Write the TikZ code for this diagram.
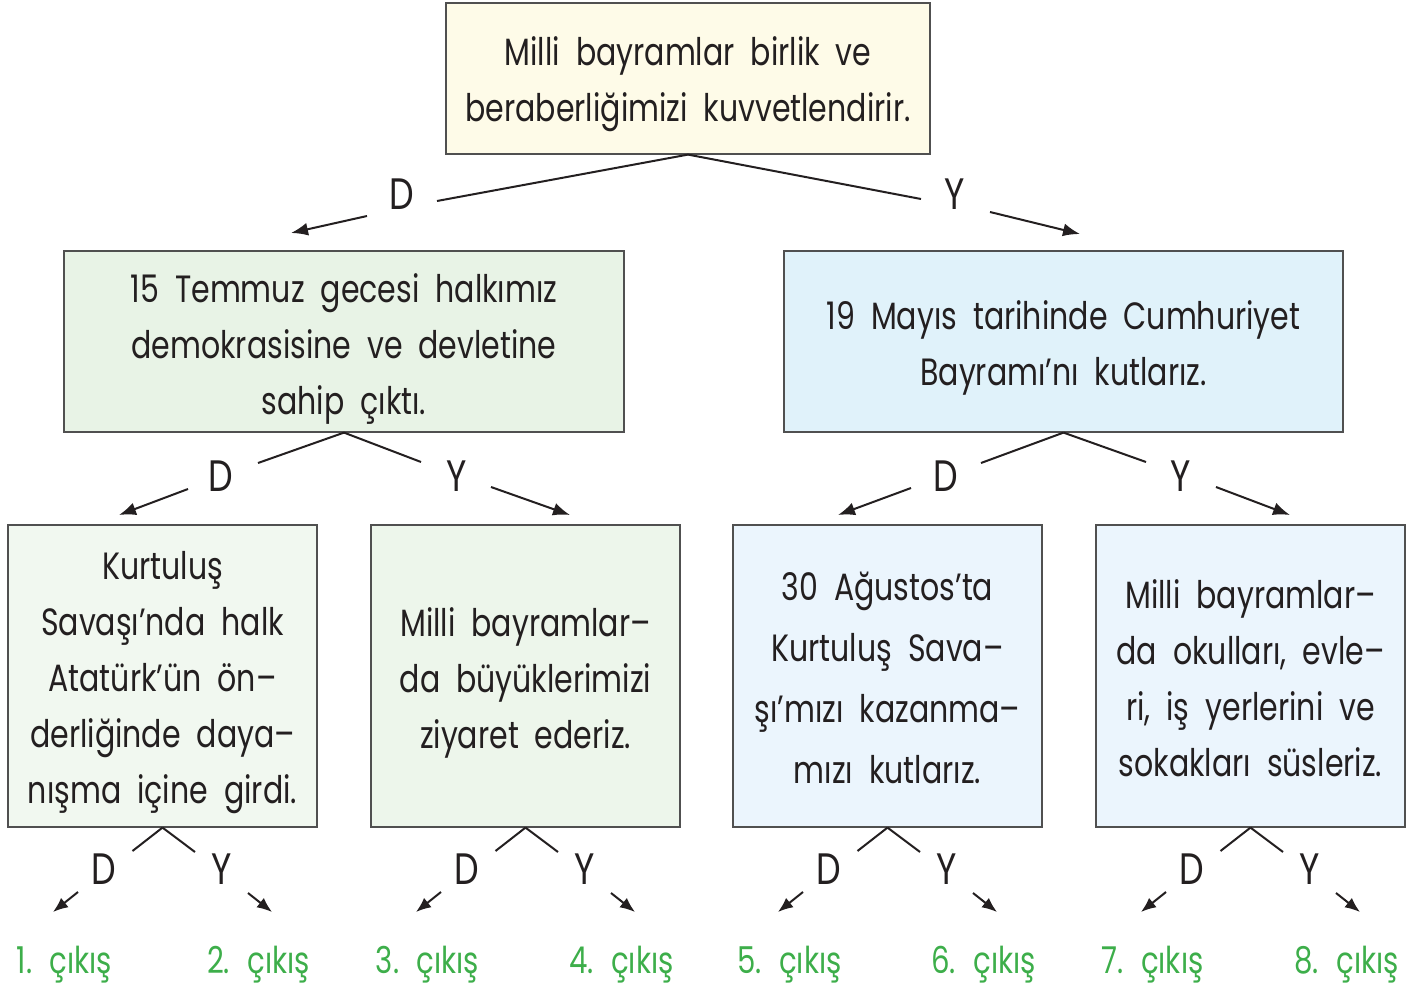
\documentclass[tikz,border=0pt]{standalone}
\usepackage{fontspec}
\setmainfont{Poppins}[FakeStretch=0.79]
\usetikzlibrary{arrows.meta}
\definecolor{txt}{HTML}{231F20}
\definecolor{bord}{HTML}{505050}
\definecolor{topfill}{HTML}{FEFBE8}
\definecolor{gfill}{HTML}{E8F3E6}
\definecolor{bfill}{HTML}{E0F2FA}
\definecolor{g1fill}{HTML}{F1F8F0}
\definecolor{g2fill}{HTML}{EDF6EB}
\definecolor{b3fill}{HTML}{EBF5FD}
\definecolor{exitgreen}{HTML}{3DAE4A}
\newcommand\mywordsp{\spaceskip=0.42em\relax}
\newcommand\mytextfont{\fontsize{38}{56}\selectfont\mywordsp}
\newcommand\mytextfontb{\fontsize{38}{61}\selectfont\mywordsp}
\newcommand\myexitfont{\fontsize{37}{40}\selectfont\spaceskip=0.4em\relax}
\begin{document}
\begin{tikzpicture}[x=1pt,y=-1pt,
  box/.style={draw=bord, line width=1.2pt, inner sep=0pt},
  boxtext/.style={inner sep=0pt, align=center, text=txt, font=\mytextfont},
  yn/.style={text=txt, inner sep=0pt, font=\fontsize{44}{48}\selectfont},
  exitlbl/.style={text=exitgreen, inner sep=0pt, font=\myexitfont},
  conn/.style={draw=txt, line width=2pt},
  arr/.style={draw=txt, line width=2pt, -{Latex[length=17pt,width=13pt]}},
  arrs/.style={draw=txt, line width=2pt, -{Latex[length=15pt,width=12pt]}}
]
\useasboundingbox (0,0) rectangle (1421,987);

% top box
\node[box, fill=topfill, minimum width=484pt, minimum height=151pt] (top) at (688,78.5) {};
\node[boxtext] (topt) at ([yshift=-6pt]top.center)
  {Milli bayramlar birlik ve\\beraberliğimizi kuvvetlendirir.};

% level 2 boxes
\node[box, fill=gfill, minimum width=560pt, minimum height=181pt] (L) at (344,341.5) {};
\node[boxtext] (Lt) at ([yshift=-7.5pt]L.center)
  {15 Temmuz gecesi halkımız\\demokrasisine ve devletine\\sahip çıktı.};
\node[box, fill=bfill, minimum width=559pt, minimum height=181pt] (R) at (1063.5,341.5) {};
\node[boxtext] (Rt) at ([yshift=-6pt]R.center)
  {19 Mayıs tarihinde Cumhuriyet\\Bayramı’nı kutlarız.};

% top branches
\node[yn] (D0) at (402,194) {D};
\node[yn] (Y0) at (955,194) {Y};
\coordinate (D0a) at (437,201);
\coordinate (D0b) at (367,216);
\coordinate (D0t) at (291,233);
\coordinate (Y0a) at (921,199);
\coordinate (Y0b) at (990,212);
\coordinate (Y0t) at (1080,234);
\draw[conn] (top.south) -- (D0a);
\draw[arr] (D0b) -- (D0t);
\draw[conn] (top.south) -- (Y0a);
\draw[arr] (Y0b) -- (Y0t);

% level 2 branches left
\node[yn] (DL) at (221,476) {D};
\node[yn] (YL) at (457,476) {Y};
\coordinate (DLa) at (258,463);
\coordinate (DLb) at (188,489);
\coordinate (DLt) at (119,515);
\coordinate (YLa) at (421,462);
\coordinate (YLb) at (491,487);
\coordinate (YLt) at (570,515);
\draw[conn] (L.south) -- (DLa);
\draw[arr] (DLb) -- (DLt);
\draw[conn] (L.south) -- (YLa);
\draw[arr] (YLb) -- (YLt);

% level 2 branches right
\node[yn] (DR) at (946,476) {D};
\node[yn] (YR) at (1181,476) {Y};
\coordinate (DRa) at (981,463);
\coordinate (DRb) at (911,488);
\coordinate (DRt) at (838,515);
\coordinate (YRa) at (1146,462);
\coordinate (YRb) at (1216,487);
\coordinate (YRt) at (1290,515);
\draw[conn] (R.south) -- (DRa);
\draw[arr] (DRb) -- (DRt);
\draw[conn] (R.south) -- (YRa);
\draw[arr] (YRb) -- (YRt);

% level 3 boxes
\node[box, fill=g1fill, minimum width=309pt, minimum height=302pt] (b1) at (162.5,676) {};
\node[boxtext] (b1t) at ([yshift=-7pt]b1.center)
  {Kurtuluş\\Savaşı’nda halk\\Atatürk’ün ön–\\derliğinde daya–\\nışma içine girdi.};
\node[box, fill=g2fill, minimum width=309pt, minimum height=302pt] (b2) at (525.5,676) {};
\node[boxtext] (b2t) at ([yshift=-6.5pt]b2.center)
  {Milli bayramlar–\\da büyüklerimizi\\ziyaret ederiz.};
\node[box, fill=b3fill, minimum width=309pt, minimum height=302pt] (b3) at (887.5,676) {};
\node[boxtext, font=\mytextfontb] (b3t) at ([yshift=-2pt]b3.center)
  {30 Ağustos’ta\\Kurtuluş Sava–\\şı’mızı kazanma–\\mızı kutlarız.};
\node[box, fill=b3fill, minimum width=309pt, minimum height=302pt] (b4) at (1250.5,676) {};
\node[boxtext] (b4t) at ([yshift=-2pt]b4.center)
  {Milli bayramlar–\\da okulları, evle–\\ri, iş yerlerini ve\\sokakları süsleriz.};

% level 3 branches
\foreach \i/\cx in {1/162.5, 2/525.5, 3/887.5, 4/1250.5}{
  \pgfmathtruncatemacro{\nl}{2*\i-1}
  \pgfmathtruncatemacro{\nr}{2*\i}
  \node[yn] (d\i) at ({\cx-58.5},869) {D};
  \node[yn] (y\i) at ({\cx+59.5},869) {Y};
  \coordinate (d\i a) at ({\cx-30},851);
  \coordinate (d\i b) at ({\cx-84.5},892);
  \coordinate (d\i t) at ({\cx-109.5},912);
  \coordinate (y\i a) at ({\cx+32.5},852);
  \coordinate (y\i b) at ({\cx+85.5},893);
  \coordinate (y\i t) at ({\cx+109.5},912);
  \draw[conn] (b\i.south) -- (d\i a);
  \draw[arrs] (d\i b) -- (d\i t);
  \draw[conn] (b\i.south) -- (y\i a);
  \draw[arrs] (y\i b) -- (y\i t);
  \node[exitlbl] (e\nl) at ({\cx-98},965) {\nl. çıkış};
  \node[exitlbl] (e\nr) at ({\cx+96},965) {\nr. çıkış};
}
\end{tikzpicture}
\end{document}
